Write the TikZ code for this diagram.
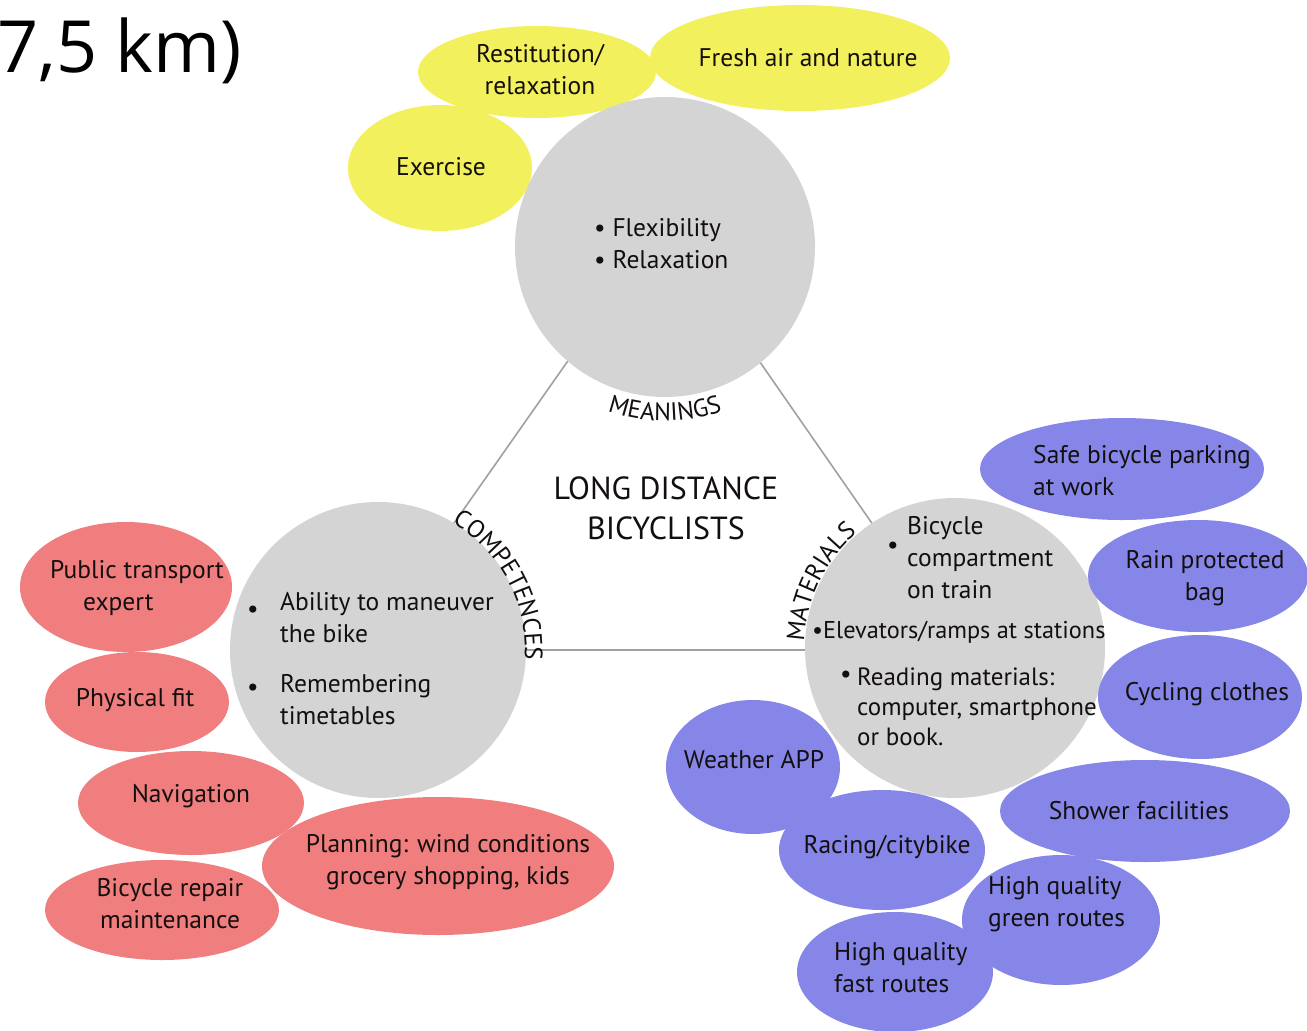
\documentclass[tikz,border=0pt]{standalone}
\usepackage{fontspec}
\setsansfont{PT Sans}
\newfontfamily\bigfont{Open Sans}
\usetikzlibrary{shapes.geometric,decorations.text,calc}
\definecolor{yel}{RGB}{242,240,92}
\definecolor{sal}{RGB}{240,126,126}
\definecolor{peri}{RGB}{134,134,232}
\definecolor{disc}{RGB}{212,212,212}
\definecolor{tline}{RGB}{160,160,160}
\definecolor{ink}{RGB}{20,15,15}
\begin{document}
\begin{tikzpicture}[x=1pt,y=1pt,
  every node/.style={font=\sffamily\fontsize{25.5}{32}\selectfont, text=ink},
  blob/.style={ellipse, inner sep=0pt, draw=none},
  ylw/.style={blob, fill=yel},
  redb/.style={blob, fill=sal},
  blub/.style={blob, fill=peri},
  disk/.style={circle, fill=disc, inner sep=0pt},
  lbl/.style={inner sep=0pt, align=center},
  lbll/.style={inner sep=0pt, align=left, anchor=west},
  dot/.style={inner sep=0pt},
  tri/.style={draw=tline, line width=1.6pt},
  arclabel/.style={decorate, decoration={text along path, text align=center, text={|\sffamily\fontsize{25}{25}\selectfont\color{ink}|#1}}}
]
\useasboundingbox (0,0) rectangle (1307,-1031);

% triangle behind the discs
\coordinate (ta) at (664,-224);
\coordinate (tb) at (365,-650);
\coordinate (tc) at (960,-650);
\draw[tri] (ta) -- (tb) -- (tc) -- cycle;

% yellow
\node[ylw, minimum width=184pt, minimum height=126pt] (exer) at (440,-168) {};
\node[ylw, minimum width=238pt, minimum height=92pt] (rest) at (537,-72) {};
\node[ylw, minimum width=300pt, minimum height=106pt] (fresh) at (800,-58) {};

% grey discs
\node[disk, minimum size=300pt] (mean) at (665,-247) {};
\node[disk, minimum size=296pt] (comp) at (378,-650) {};
\node[disk, minimum size=300pt] (mat) at (955,-648) {};

% red
\node[redb, minimum width=212pt, minimum height=130pt] (pub) at (126,-587) {};
\node[redb, minimum width=184pt, minimum height=100pt] (phys) at (137,-702) {};
\node[redb, minimum width=226pt, minimum height=104pt] (nav) at (191,-803) {};
\node[redb, minimum width=234pt, minimum height=100pt] (rep) at (162,-910) {};
\node[redb, minimum width=352pt, minimum height=138pt] (plan) at (438,-866) {};

% blue
\node[blub, minimum width=284pt, minimum height=102pt] (park) at (1122,-469) {};
\node[blub, minimum width=220pt, minimum height=112pt] (rain) at (1198,-576) {};
\node[blub, minimum width=204pt, minimum height=124pt] (cloth) at (1200,-697) {};
\node[blub, minimum width=290pt, minimum height=102pt] (show) at (1145,-811) {};
\node[blub, minimum width=174pt, minimum height=134pt] (wea) at (753,-767) {};
\node[blub, minimum width=206pt, minimum height=120pt] (race) at (882,-850) {};
\node[blub, minimum width=198pt, minimum height=130pt] (green) at (1061,-920) {};
\node[blub, minimum width=196pt, minimum height=120pt] (fast) at (895,-972) {};

% texts
\node[anchor=base west, inner sep=0pt, font=\bigfont\fontsize{72}{72}\selectfont, text=black] (km) at (-3,-72) {7,5 km)};

\node[lbl] (rest-t) at (540,-70) {Restitution/\\relaxation};
\node[lbl] (fresh-t) at (808,-58) {Fresh air and nature};
\node[lbl] (exer-t) at (441,-167) {Exercise};
\node[lbll] (mean-t) at (594,-244) {\textbullet\ Flexibility\\\textbullet\ Relaxation};

\node[lbl, font=\sffamily\fontsize{32}{40}\selectfont] (title) at (666,-508) {LONG DISTANCE\\BICYCLISTS};

\node[dot] (b1) at (253,-612) {\textbullet};
\node[lbll] (comp-t1) at (280,-618) {Ability to maneuver\\the bike};
\node[dot] (b2) at (253,-690) {\textbullet};
\node[lbll] (comp-t2) at (280,-700) {Remembering\\timetables};

\node[dot] (b3) at (893,-548) {\textbullet};
\node[lbll] (mat-t1) at (907,-558) {Bicycle\\compartment\\on train};
\node[lbll, font=\sffamily\fontsize{24.3}{32}\selectfont] (mat-t2) at (812,-632) {\textbullet Elevators/ramps at stations};
\node[dot] (b4) at (846,-677) {\textbullet};
\node[lbll, font=\sffamily\fontsize{25}{30}\selectfont] (mat-t3) at (857,-707) {Reading materials:\\computer, smartphone\\or book.};

\node[lbll] (pub-t) at (50,-588) {Public transport\\\hspace*{33pt}expert};
\node[lbl] (phys-t) at (135,-700) {Physical fit};
\node[lbl] (nav-t) at (191,-796) {Navigation};
\node[lbl] (rep-t) at (170,-904) {Bicycle repair\\maintenance};
\node[lbl] (plan-t) at (448,-862) {Planning: wind conditions\\grocery shopping, kids};

\node[lbll] (park-t) at (1033,-471) {Safe bicycle parking\\at work};
\node[lbl] (rain-t) at (1205,-578) {Rain protected\\bag};
\node[lbl] (cloth-t) at (1207,-694) {Cycling clothes};
\node[lbl] (show-t) at (1139,-811) {Shower facilities};
\node[lbl] (wea-t) at (754,-760) {Weather APP};
\node[lbl] (race-t) at (887,-847) {Racing/citybike};
\node[lbll] (green-t) at (988,-904) {High quality\\green routes};
\node[lbll] (fast-t) at (834,-968) {High quality\\fast routes};

% curved category labels
\path[arclabel=MEANINGS] ($(mean.center)+(246:174pt)$) arc[start angle=246, end angle=294, radius=174pt];
\path[arclabel=COMPETENCES] ($(comp.center)+(66:147pt)$) arc[start angle=66, end angle=-10, radius=147pt];
\path[arclabel=MATERIALS] ($(mat.center)+(184:151pt)$) arc[start angle=184, end angle=124, radius=151pt];
\end{tikzpicture}
\end{document}
